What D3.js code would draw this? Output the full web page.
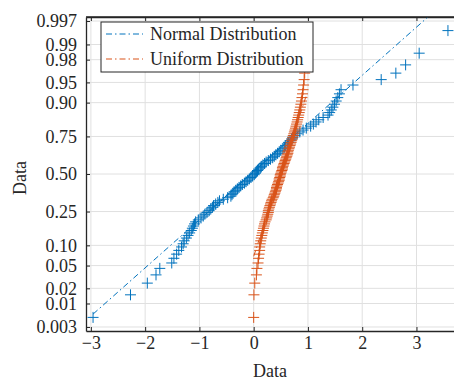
<!DOCTYPE html>
<html>
<head>
<meta charset="utf-8">
<script src="https://cdn.jsdelivr.net/npm/d3@7"></script>
<style>
  body { margin: 0; background: #fff; }
  text { font-family: "Liberation Serif", "Times New Roman", serif; fill: #262626; }
</style>
</head>
<body>
<div class="chart"></div>
<script>
// sorted sample values (100 each)
var normalData = [
  -2.96, -2.27, -1.96, -1.80, -1.73, -1.51, -1.47, -1.42, -1.38, -1.33,
  -1.30, -1.28, -1.24, -1.21, -1.18, -1.15, -1.13, -1.11, -1.09, -1.07,
  -1.02, -0.97, -0.93, -0.90, -0.86, -0.82, -0.79, -0.76, -0.74, -0.70,
  -0.66, -0.63, -0.56, -0.48, -0.42, -0.40, -0.38, -0.36, -0.33, -0.30,
  -0.27, -0.24, -0.21, -0.17, -0.14, -0.11, -0.08, -0.05, -0.02, 0.01,
  0.03, 0.05, 0.07, 0.09, 0.12, 0.14, 0.17, 0.20, 0.23, 0.27,
  0.31, 0.35, 0.38, 0.41, 0.44, 0.47, 0.50, 0.54, 0.57, 0.59,
  0.62, 0.64, 0.67, 0.70, 0.72, 0.76, 0.80, 0.85, 0.91, 0.97,
  1.05, 1.10, 1.15, 1.20, 1.28, 1.37, 1.40, 1.43, 1.46, 1.49,
  1.52, 1.55, 1.58, 1.61, 1.83, 2.35, 2.62, 2.80, 3.05, 3.58
];
var uniformData = [
  0.00, 0.005, 0.02, 0.05, 0.06, 0.08, 0.09, 0.10, 0.11, 0.11,
  0.12, 0.13, 0.14, 0.15, 0.16, 0.17, 0.18, 0.19, 0.20, 0.21,
  0.23, 0.24, 0.25, 0.26, 0.27, 0.27, 0.28, 0.29, 0.30, 0.31,
  0.32, 0.33, 0.34, 0.36, 0.37, 0.38, 0.39, 0.40, 0.41, 0.42,
  0.42, 0.43, 0.44, 0.45, 0.46, 0.47, 0.47, 0.48, 0.49, 0.49,
  0.50, 0.51, 0.52, 0.53, 0.53, 0.54, 0.55, 0.56, 0.57, 0.58,
  0.59, 0.60, 0.61, 0.62, 0.63, 0.63, 0.64, 0.65, 0.66, 0.67,
  0.68, 0.69, 0.70, 0.71, 0.72, 0.73, 0.74, 0.75, 0.76, 0.77,
  0.78, 0.79, 0.80, 0.81, 0.82, 0.83, 0.84, 0.85, 0.86, 0.87,
  0.88, 0.89, 0.90, 0.91, 0.92, 0.93, 0.94, 0.95, 0.96, 0.97
];
var seriesNames = ['Normal Distribution', 'Uniform Distribution'];
var seriesColors = ['#0072BD', '#D95319'];
var xTicks = [-3, -2, -1, 0, 1, 2, 3];
var probTicks = [0.003, 0.01, 0.02, 0.05, 0.10, 0.25, 0.50, 0.75, 0.90, 0.95, 0.98, 0.99, 0.997];
var probLabels = ['0.003', '0.01', '0.02', '0.05', '0.10', '0.25', '0.50', '0.75', '0.90', '0.95', '0.98', '0.99', '0.997'];

var W = 454, H = 381;
var margin = { top: 17, left: 86 };
var width = 369, height = 314;

// inverse normal cdf (Acklam), used for the probability axis
function norminv(p) {
    var a = [-39.69683028665376, 220.9460984245205, -275.9285104469687, 138.3577518672690, -30.66479806614716, 2.506628277459239];
    var b = [-54.47609879822406, 161.5858367942414, -155.6989798598866, 66.80131188771972, -13.28068155288572];
    var c = [-0.007784894002430293, -0.3223964580411365, -2.400758277161838, -2.549732539343734, 4.374664141464968, 2.938163982698783];
    var d = [0.007784695709041462, 0.3224671290700398, 2.445134137142996, 3.754408661907416];
    var q, r;
    if (p < 0.02425) {
        q = Math.sqrt(-2 * Math.log(p));
        return (((((c[0]*q+c[1])*q+c[2])*q+c[3])*q+c[4])*q+c[5]) / ((((d[0]*q+d[1])*q+d[2])*q+d[3])*q+1);
    }
    if (p > 1 - 0.02425) {
        q = Math.sqrt(-2 * Math.log(1 - p));
        return -(((((c[0]*q+c[1])*q+c[2])*q+c[3])*q+c[4])*q+c[5]) / ((((d[0]*q+d[1])*q+d[2])*q+d[3])*q+1);
    }
    q = p - 0.5; r = q * q;
    return (((((a[0]*r+a[1])*r+a[2])*r+a[3])*r+a[4])*r+a[5])*q / (((((b[0]*r+b[1])*r+b[2])*r+b[3])*r+b[4])*r+1);
}

var svg = d3.select('.chart')
    .append('svg')
    .attr('width', W)
    .attr('height', H);

svg.append('clipPath').attr('id', 'clip')
    .append('rect').attr('width', width).attr('height', height);

var g = svg.append('g')
    .attr('transform', `translate(${margin.left}, ${margin.top})`);

var xScale = d3.scaleLinear().domain([-3.09, 3.71]).range([0, width]);
var yScale = d3.scaleLinear().domain([-2.82, 2.82]).range([height, 0]);

// grid
g.append('g')
    .selectAll('line')
    .data(xTicks)
    .enter().append('line')
    .attr('x1', d => xScale(d)).attr('x2', d => xScale(d))
    .attr('y1', 0).attr('y2', height)
    .style('stroke', '#e0e0e0');
g.append('g')
    .selectAll('line')
    .data(probTicks)
    .enter().append('line')
    .attr('x1', 0).attr('x2', width)
    .attr('y1', d => yScale(norminv(d))).attr('y2', d => yScale(norminv(d)))
    .style('stroke', '#e0e0e0');

// axes
g.append('g')
    .attr('transform', `translate(0, ${height})`)
    .call(d3.axisBottom(xScale).tickValues(xTicks).tickSizeInner(-4).tickSizeOuter(0).tickPadding(5)
        .tickFormat(d => d < 0 ? '\u2212' + Math.abs(d) : d));
g.append('g')
    .call(d3.axisTop(xScale).tickValues(xTicks).tickSizeInner(-4).tickSizeOuter(0).tickFormat(''));
g.append('g')
    .call(d3.axisLeft(yScale).tickValues(probTicks.map(norminv)).tickSizeInner(-4).tickSizeOuter(0).tickPadding(9)
        .tickFormat((d, i) => probLabels[i]));

g.selectAll('.domain').style('stroke', '#262626').style('stroke-width', 1.3);
g.selectAll('.tick line').style('stroke', '#262626');
g.selectAll('.tick text').style('font-size', '18px').style('font-family', '"Liberation Serif", serif').style('fill', '#262626');

// data
var plot = g.append('g').attr('clip-path', 'url(#clip)');
[normalData, uniformData].forEach(function (data, k) {
    var n = data.length;
    var pts = data.map((v, i) => ({ x: v, z: norminv((i + 0.5) / n) }));
    var q1 = d3.quantile(data, 0.25), q3 = d3.quantile(data, 0.75);
    var slope = (norminv(0.75) - norminv(0.25)) / (q3 - q1);
    var zAt = x => norminv(0.25) + slope * (x - q1);
    var line = d3.line().x(d => xScale(d[0])).y(d => yScale(d[1]));

    plot.selectAll('.pt' + k)
        .data(pts)
        .enter()
        .append('path')
        .attr('class', 'pt' + k)
        .attr('transform', d => `translate(${xScale(d.x)}, ${yScale(d.z)})`)
        .attr('d', 'M-5.5,0H5.5M0,-5.5V5.5')
        .style('stroke', seriesColors[k])
        .style('stroke-width', 1)
        .style('fill', 'none');

    var lo = d3.min(data), hi = d3.max(data);
    plot.append('path')
        .attr('d', line([[lo, zAt(lo)], [hi, zAt(hi)]]))
        .style('stroke', seriesColors[k])
        .style('stroke-width', 1)
        .style('stroke-dasharray', '6,3,1.5,3')
        .style('fill', 'none');
    plot.append('path')
        .attr('d', line([[q1, zAt(q1)], [q3, zAt(q3)]]))
        .style('stroke', seriesColors[k])
        .style('stroke-width', 1)
        .style('fill', 'none');
});

// box top line
g.append('line').attr('x1', 0).attr('x2', width).attr('y1', 0).attr('y2', 0)
    .style('stroke', '#262626').style('stroke-width', 1.3);

// legend
var legend = g.append('g').attr('transform', 'translate(15, 5)');
legend.append('rect')
    .attr('width', 212).attr('height', 50)
    .style('fill', '#fff').style('stroke', '#262626').style('stroke-width', 1);
seriesNames.forEach(function (name, k) {
    var ly = 12 + k * 25;
    legend.append('line')
        .attr('x1', 5).attr('x2', 42).attr('y1', ly).attr('y2', ly)
        .style('stroke', seriesColors[k])
        .style('stroke-dasharray', '6,3,1.5,3');
    legend.append('text')
        .attr('x', 49).attr('y', ly + 6)
        .style('font-size', '18px')
        .text(name);
});

// axis labels
svg.append('text')
    .attr('x', 270).attr('y', 377)
    .attr('text-anchor', 'middle')
    .style('font-size', '18px')
    .text('Data');
svg.append('text')
    .attr('transform', 'translate(26, 178) rotate(-90)')
    .attr('text-anchor', 'middle')
    .style('font-size', '18px')
    .text('Data');
</script>
</body>
</html>
